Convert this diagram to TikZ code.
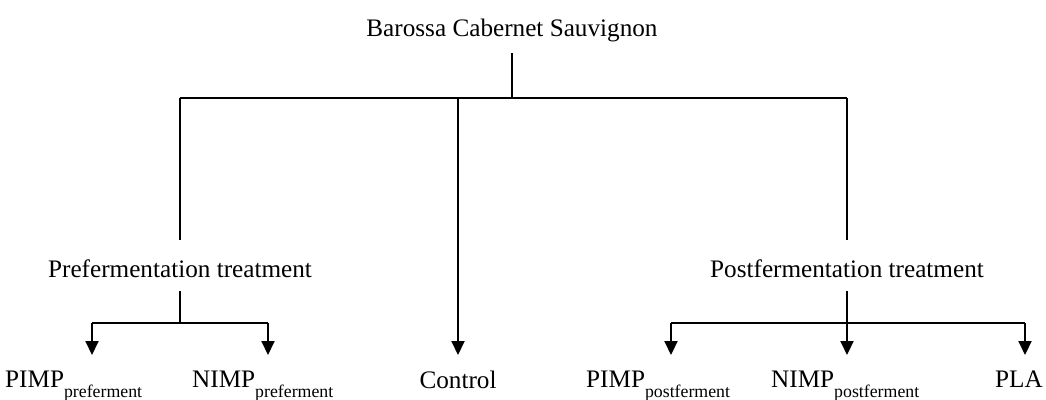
\documentclass[tikz,border=0pt]{standalone}
\usepackage{fontspec}
\setmainfont{Liberation Serif}
\usetikzlibrary{arrows.meta}
\newcommand\mysubtxt[1]{\raisebox{-10pt}{\fontsize{17.8}{20}\selectfont #1}}
\begin{document}
\begin{tikzpicture}[x=1pt,y=-1pt,
  lbl/.style={inner sep=0pt,font=\fontsize{25.2}{28}\selectfont},
  ln/.style={line width=2pt},
  arr/.style={line width=2pt,-{Triangle[length=14pt,width=13pt]}}]
\useasboundingbox (0,0) rectangle (1046,399);
% text nodes
\node[lbl,anchor=base] (title) at (512,36) {Barossa Cabernet Sauvignon};
\node[lbl,anchor=base] (pre) at (180,277) {Prefermentation treatment};
\node[lbl,anchor=base] (post) at (847,277) {Postfermentation treatment};
\node[lbl,anchor=base] (ctrl) at (458,388) {Control};
\node[lbl,anchor=base west] (pimp1) at (5,387) {PIMP\mysubtxt{preferment}};
\node[lbl,anchor=base west] (nimp1) at (192,387) {NIMP\mysubtxt{preferment}};
\node[lbl,anchor=base west] (pimp2) at (586,387) {PIMP\mysubtxt{postferment}};
\node[lbl,anchor=base west] (nimp2) at (771,387) {NIMP\mysubtxt{postferment}};
\node[lbl,anchor=base west] (pla) at (995,387) {PLA};
% junctions
\coordinate (jtop) at (512,98);
\coordinate (jL) at (180,98);
\coordinate (jC) at (458,98);
\coordinate (jR) at (847,98);
\coordinate (pj) at (180,323);
\coordinate (pjL) at (92,323);
\coordinate (pjR) at (268,323);
\coordinate (qjL) at (671,323);
\coordinate (qjR) at (1025,323);
\coordinate (a1) at (92,355);
\coordinate (a2) at (268,355);
\coordinate (a3) at (671,355);
\coordinate (a4) at (1025,355);
% connectors
\draw[ln] ([yshift=-17pt]title.base) -- (jtop);
\draw[ln] (jL) -- (jR);
\draw[ln] (jL) -- ([yshift=37pt]pre.base);
\draw[ln] (jR) -- ([yshift=37pt]post.base);
\draw[arr] (jC) -- ([yshift=33pt]ctrl.base);
\draw[ln] ([yshift=-14pt]pre.base) -- (pj);
\draw[ln] (pjL) -- (pjR);
\draw[arr] (pjL) -- (a1);
\draw[arr] (pjR) -- (a2);
\draw[arr] ([yshift=-14pt]post.base) -- ([yshift=33pt]post.base |- ctrl.base);
\draw[ln] (qjL) -- (qjR);
\draw[arr] (qjL) -- (a3);
\draw[arr] (qjR) -- (a4);
\end{tikzpicture}
\end{document}
